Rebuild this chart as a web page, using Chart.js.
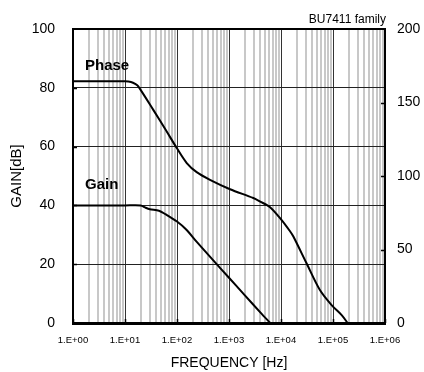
<!DOCTYPE html>
<html>
<head>
<meta charset="utf-8">
<script src="https://cdn.jsdelivr.net/npm/chart.js@4/dist/chart.umd.min.js"></script>
<style>
  html, body { margin: 0; padding: 0; background: #fff; }
  #wrap { width: 424px; height: 372px; }
</style>
</head>
<body>
<div id="wrap"><canvas id="bode" width="424" height="372"></canvas></div>
<script>
// open-loop gain [dB] vs frequency [Hz]
const gainFreq = [1, 10, 20, 25, 30, 45, 60, 100, 150, 240, 470, 1000, 2000, 4000, 6200];
const gainDb = [40, 40, 40, 39.2, 38.7, 38.2, 37.0, 34.5, 31.8, 27.6, 21.8, 15.4, 9.5, 3.6, 0];

// phase [deg] vs frequency [Hz], plotted on the right axis
const phaseFreq = [1, 10, 13, 16, 18, 35, 63, 99, 154, 239, 431, 1047, 2930, 3980, 6160,
  10200, 14800, 17300, 31000, 56000, 94000, 147000, 191000];
const phaseDeg = [164.4, 164.4, 164, 162.5, 161, 145, 130.4, 119, 108.8, 102.6, 97.4, 91, 85, 82.6, 78.8,
  70.2, 62.6, 58.8, 40.6, 22.4, 12.2, 5.4, 0];

const decadeLabels = ["1.E+00", "1.E+01", "1.E+02", "1.E+03", "1.E+04", "1.E+05", "1.E+06"];
const gainTicks = [0, 20, 40, 60, 80, 100];
const phaseTicks = [0, 50, 100, 150, 200];

const FONT = "'Liberation Sans', Arial, sans-serif";

// 1,2,...,9 per decade for the vertical grid
const gridFreqs = [];
for (let k = 0; k < decadeLabels.length - 1; k++) {
  for (let m = 1; m <= 9; m++) gridFreqs.push(m * Math.pow(10, k));
}
gridFreqs.push(Math.pow(10, decadeLabels.length - 1));

const isDecade = (v) => Math.abs(Math.log10(v) - Math.round(Math.log10(v))) < 1e-9;

const toPoints = (xs, ys) => xs.map((x, i) => ({ x, y: ys[i] }));

// frame, inward tick marks and the in-plot labels
const decorations = {
  id: "decorations",
  afterDraw(chart) {
    const { ctx, chartArea: a, scales } = chart;
    ctx.save();
    ctx.strokeStyle = "#000";
    ctx.lineWidth = 1.5;
    ctx.beginPath();
    gainTicks.slice(1, -1).forEach((v) => {
      const y = Math.round(scales.y.getPixelForValue(v)) + 0.5;
      ctx.moveTo(a.left, y); ctx.lineTo(a.left + 4, y);
    });
    phaseTicks.slice(1, -1).forEach((v) => {
      const y = Math.round(scales.y2.getPixelForValue(v)) + 0.5;
      ctx.moveTo(a.right - 4, y); ctx.lineTo(a.right, y);
    });
    gridFreqs.filter(isDecade).forEach((v) => {
      const x = Math.round(scales.x.getPixelForValue(v)) + 0.5;
      ctx.moveTo(x, a.bottom); ctx.lineTo(x, a.bottom - 4);
    });
    ctx.stroke();

    ctx.lineWidth = 2;
    ctx.strokeRect(a.left, a.top, a.right - a.left, a.bottom - a.top);

    ctx.fillStyle = "#000";
    ctx.textBaseline = "middle";
    ctx.textAlign = "left";
    ctx.font = "bold 15px " + FONT;
    ctx.fillText("Phase", scales.x.getPixelForValue(1.7), scales.y.getPixelForValue(87.5));
    ctx.fillText("Gain", scales.x.getPixelForValue(1.7), scales.y.getPixelForValue(47));

    ctx.font = "12px " + FONT;
    ctx.textAlign = "right";
    ctx.fillText("BU7411 family", a.right + 1, 20);
    ctx.restore();
  }
};

new Chart(document.getElementById("bode"), {
  type: "line",
  data: {
    datasets: [
      {
        label: "Gain",
        data: toPoints(gainFreq, gainDb),
        yAxisID: "y",
        borderColor: "#000",
        borderWidth: 2,
        pointRadius: 0,
        tension: 0.3
      },
      {
        label: "Phase",
        data: toPoints(phaseFreq, phaseDeg),
        yAxisID: "y2",
        borderColor: "#000",
        borderWidth: 2,
        pointRadius: 0,
        tension: 0.3
      }
    ]
  },
  options: {
    responsive: false,
    animation: false,
    devicePixelRatio: 1,
    layout: { padding: { top: 29, right: 0, bottom: 0, left: 0 } },
    plugins: {
      legend: { display: false },
      tooltip: { enabled: false }
    },
    scales: {
      x: {
        type: "logarithmic",
        position: "bottom",
        min: 1,
        max: 1e6,
        afterBuildTicks: (scale) => {
          scale.ticks = gridFreqs.map((v) => ({ value: v, major: isDecade(v) }));
        },
        afterFit: (scale) => { scale.height = 49; },
        ticks: {
          autoSkip: false,
          maxRotation: 0,
          padding: 12,
          color: "#000",
          font: { family: FONT, size: 9.5 },
          callback: (v) => isDecade(v) ? decadeLabels[Math.round(Math.log10(v))] : ""
        },
        grid: {
          drawTicks: false,
          color: (c) => (c.tick && isDecade(c.tick.value) ? "#333" : "#c8c8c8"),
          lineWidth: (c) => (c.tick && isDecade(c.tick.value) ? 1 : 2)
        },
        border: { color: "#000", width: 3 },
        title: {
          display: true,
          text: "FREQUENCY [Hz]",
          color: "#000",
          font: { family: FONT, size: 14 },
          padding: { top: 0, bottom: 0 }
        }
      },
      y: {
        position: "left",
        min: 0,
        max: 100,
        afterFit: (scale) => { scale.width = 73; },
        ticks: {
          stepSize: 20,
          padding: 18,
          color: "#000",
          font: { family: FONT, size: 14 }
        },
        grid: { drawTicks: false, color: "#222", lineWidth: 1 },
        border: { color: "#000", width: 2 },
        title: {
          display: true,
          text: "GAIN[dB]",
          color: "#000",
          font: { family: FONT, size: 15 },
          padding: { top: 8, bottom: 0 }
        }
      },
      y2: {
        position: "right",
        min: 0,
        max: 200,
        afterFit: (scale) => { scale.width = 39; },
        ticks: {
          stepSize: 50,
          padding: 12,
          color: "#000",
          font: { family: FONT, size: 14 }
        },
        grid: { drawOnChartArea: false, drawTicks: false },
        border: { color: "#000", width: 2 }
      }
    }
  },
  plugins: [decorations]
});
</script>
</body>
</html>
